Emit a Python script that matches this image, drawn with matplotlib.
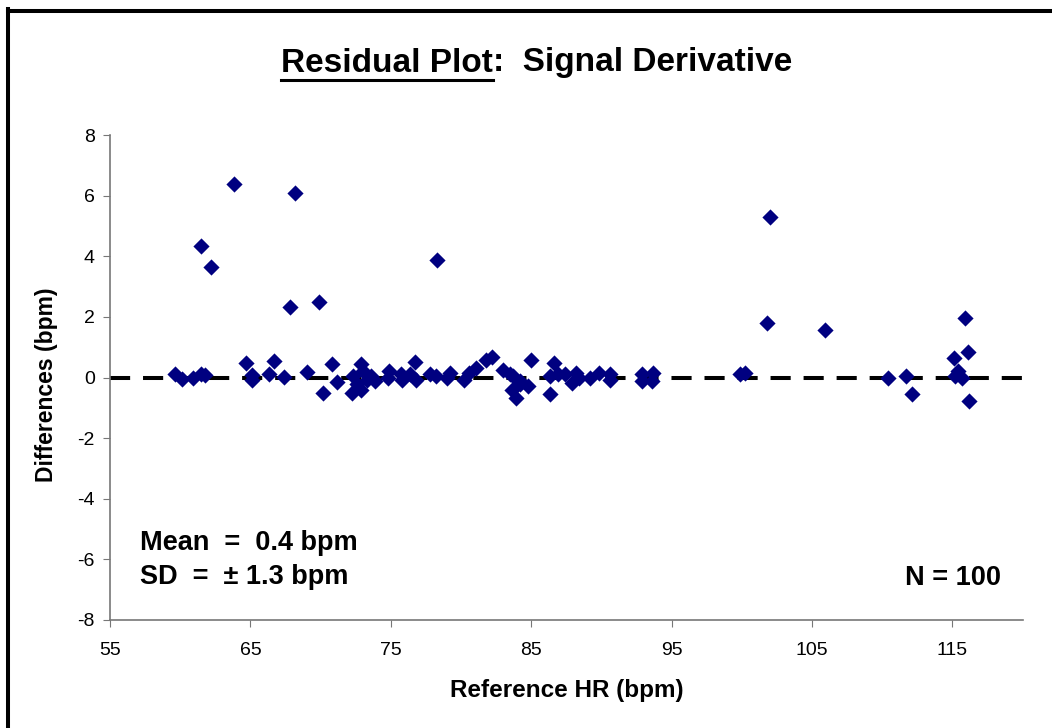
import matplotlib
matplotlib.use("Agg")
import matplotlib.pyplot as plt
from matplotlib.lines import Line2D

plt.rcParams['font.family'] = ['Liberation Sans', 'DejaVu Sans']
plt.rcParams['axes.unicode_minus'] = False

# reference heart rate (bpm) and the differences (bpm)
ref_hr = [59.6, 60.1, 60.9, 61.5, 61.8, 61.5, 62.2, 63.8, 64.7, 65.1,
          65.1, 66.3, 66.7, 67.4, 67.8, 68.2, 69.0, 69.9, 70.2, 70.8,
          71.2, 72.2, 72.3, 72.6, 72.9, 72.9, 73.0, 73.3, 73.6, 73.9,
          74.8, 74.9, 75.7, 75.8, 76.4, 76.7, 76.8, 77.8, 78.2, 78.3,
          79.0, 79.2, 80.2, 80.6, 81.1, 81.8, 82.2, 83.0, 83.5, 83.7,
          83.6, 83.9, 84.2, 84.2, 84.8, 85.0, 86.3, 86.3, 86.6, 86.9,
          87.4, 87.9, 88.2, 88.4, 89.2, 89.8, 90.6, 90.6, 92.9, 92.9,
          93.6, 93.7, 99.9, 100.2, 101.8, 102.0, 105.9, 110.4, 111.7, 112.1,
          115.1, 115.2, 115.4, 115.7, 115.9, 116.1, 116.2]
diffs = [0.10, -0.04, 0.00, 0.11, 0.08, 4.35, 3.65, 6.38, 0.48, 0.07,
         -0.07, 0.10, 0.54, 0.02, 2.33, 6.09, 0.18, 2.49, -0.50, 0.43,
         -0.15, -0.50, 0.04, -0.23, 0.46, -0.40, 0.21, -0.07, 0.04, -0.12,
         -0.01, 0.21, 0.10, -0.07, 0.10, 0.52, -0.07, 0.10, 0.04, 3.89,
         -0.01, 0.15, -0.07, 0.15, 0.32, 0.59, 0.68, 0.26, 0.10, 0.04,
         -0.40, -0.67, -0.12, -0.23, -0.29, 0.57, -0.56, 0.04, 0.48, 0.10,
         0.10, -0.18, 0.15, -0.01, -0.01, 0.15, 0.10, -0.07, 0.10, -0.12,
         -0.12, 0.15, 0.10, 0.15, 1.80, 5.29, 1.58, -0.01, 0.04, -0.53,
         0.65, 0.04, 0.21, -0.01, 1.97, 0.85, -0.78]

x_ticks = [55, 65, 75, 85, 95, 105, 115]
y_ticks = [-8, -6, -4, -2, 0, 2, 4, 6, 8]

W, H = 1052, 728
fig = plt.figure(figsize=(W / 100, H / 100), dpi=100)
ax = fig.add_axes([110 / W, 1 - 620 / H, (1022.7 - 110) / W, (620 - 135) / H])

ax.axhline(0, color='black', lw=2.9, dashes=(5, 3.2), zorder=1)
ax.scatter(ref_hr, diffs, marker='D', s=68, color='#000080', zorder=3,
           linewidths=0)

ax.set_xlim(55, 120)
ax.set_ylim(-8, 8)
ax.set_xticks(x_ticks)
ax.set_yticks(y_ticks)
ax.tick_params(direction='out', length=5, color='#777777', labelsize=14)
ax.tick_params(axis='x', pad=11)
ax.tick_params(axis='y', pad=6)
for s in ['top', 'right']:
    ax.spines[s].set_visible(False)
for s in ['left', 'bottom']:
    ax.spines[s].set_color('#777777')
    ax.spines[s].set_linewidth(1.2)

fig.text(47 / W, 1 - 385 / H, 'Differences (bpm)', rotation=90,
         ha='center', va='center', fontsize=16.5, fontweight='bold')
fig.text(567 / W, 1 - 690 / H, 'Reference HR (bpm)', ha='center',
         va='center', fontsize=17.5, fontweight='bold')

ax.text(140 / W, 1 - 543 / H, 'Mean  =  0.4 bpm', transform=fig.transFigure,
        ha='left', va='center', fontsize=19.5, fontweight='bold')
ax.text(140 / W, 1 - 577 / H, 'SD  =  \u00b1 1.3 bpm', transform=fig.transFigure,
        ha='left', va='center', fontsize=19.5, fontweight='bold')
ax.text(1001 / W, 1 - 578 / H, 'N = 100', transform=fig.transFigure,
        ha='right', va='center', fontsize=19.5, fontweight='bold')

# title with the first part underlined
renderer = fig.canvas.get_renderer()
title_y = 1 - 63 / H
t1 = fig.text(0, title_y, 'Residual Plot', ha='left', va='center',
              fontsize=24, fontweight='bold')
t2 = fig.text(0, title_y, ':  Signal Derivative', ha='left', va='center',
              fontsize=24, fontweight='bold')
w1 = t1.get_window_extent(renderer).width
w2 = t2.get_window_extent(renderer).width
x0 = 537 - (w1 + w2) / 2
t1.set_x(x0 / W)
t2.set_x((x0 + w1) / W)
fig.add_artist(Line2D([x0 / W, (x0 + w1) / W], [1 - 80 / H, 1 - 80 / H],
                      transform=fig.transFigure, color='black', lw=2.2))

# outer frame (top and left edges are visible)
fig.add_artist(Line2D([8 / W, 1], [1 - 11 / H, 1 - 11 / H],
                      transform=fig.transFigure, color='black', lw=2.9))
fig.add_artist(Line2D([8 / W, 8 / W], [0, 1 - 9 / H],
                      transform=fig.transFigure, color='black', lw=2.9))

fig.savefig('out.png', dpi=100)
